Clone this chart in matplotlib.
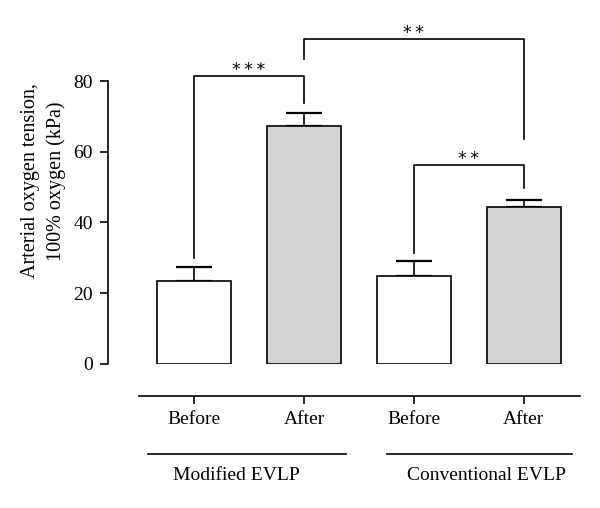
import numpy as np
import matplotlib
matplotlib.use('Agg')
import matplotlib.pyplot as plt

plt.rcParams['font.family'] = ['Liberation Serif', 'DejaVu Serif']

# data
groups = ['Modified EVLP', 'Conventional EVLP']
tick_labels = ['Before', 'After', 'Before', 'After']
means = [23.5, 67.2, 24.9, 44.4]
errs = [4.0, 3.7, 4.1, 1.9]
colors = ['white', '#d3d3d3', 'white', '#d3d3d3']

# significance brackets: (x1, x2, bar height, left leg end, right leg end, label)
brackets = [
    (0, 1, 81.3, 29.9, 73.9, '*\u2009*\u2009*'),
    (1, 3, 91.9, 86.2, 63.6, '*\u2009*'),
    (2, 3, 56.3, 31.5, 49.7, '*\u2009*'),
]

fig = plt.figure(figsize=(6, 5.08), dpi=100)
ax = fig.add_axes([0.2317, 0.2835, 0.735, 0.6963])

x = np.arange(len(means))
ax.bar(x, means, width=0.673, color=colors, edgecolor='black', linewidth=1.2, zorder=2)
ax.errorbar(x, means, yerr=[np.zeros(len(errs)), errs], fmt='none', ecolor='black',
            elinewidth=1.2, capsize=13.3, capthick=1.6, zorder=1)

for x1, x2, h, l1, l2, lab in brackets:
    ax.plot([x1, x1, x2, x2], [l1, h, h, l2], color='black', lw=1.2)
    ax.text((x1 + x2) / 2, h + 0.3, lab, ha='center', va='baseline', fontsize=12.5,
            family='DejaVu Sans')

ax.set_xlim(-0.5, 3.51)
ax.set_ylim(0, 100)
ax.spines['top'].set_visible(False)
ax.spines['right'].set_visible(False)
ax.spines['left'].set_position(('outward', 22.3))
ax.spines['bottom'].set_position(('outward', 23))
ax.spines['left'].set_bounds(0, 80)
ax.spines['left'].set_linewidth(1.2)
ax.spines['bottom'].set_linewidth(1.2)
ax.set_yticks([0, 20, 40, 60, 80])
ax.set_xticks(x)
ax.set_xticklabels(tick_labels)
ax.tick_params(axis='both', labelsize=14, length=6, width=1.2)
ax.tick_params(axis='x', pad=5)
ax.tick_params(axis='y', pad=5)

# group lines and labels under the axis
ax.plot([-0.418, 1.382], [-0.2544, -0.2544], transform=ax.get_xaxis_transform(),
        color='black', lw=1.2, clip_on=False)
ax.plot([1.755, 3.436], [-0.2544, -0.2544], transform=ax.get_xaxis_transform(),
        color='black', lw=1.2, clip_on=False)
ax.text(0.388, -0.316, groups[0], transform=ax.get_xaxis_transform(),
        ha='center', va='center', fontsize=14)
ax.text(2.655, -0.316, groups[1], transform=ax.get_xaxis_transform(),
        ha='center', va='center', fontsize=14)

fig.text(0.072, 0.644, 'Arterial oxygen tension,\n100% oxygen (kPa)', rotation=90,
         ha='center', va='center', multialignment='center', fontsize=14.5,
         linespacing=1.4)

fig.savefig('out.png', dpi=100)
